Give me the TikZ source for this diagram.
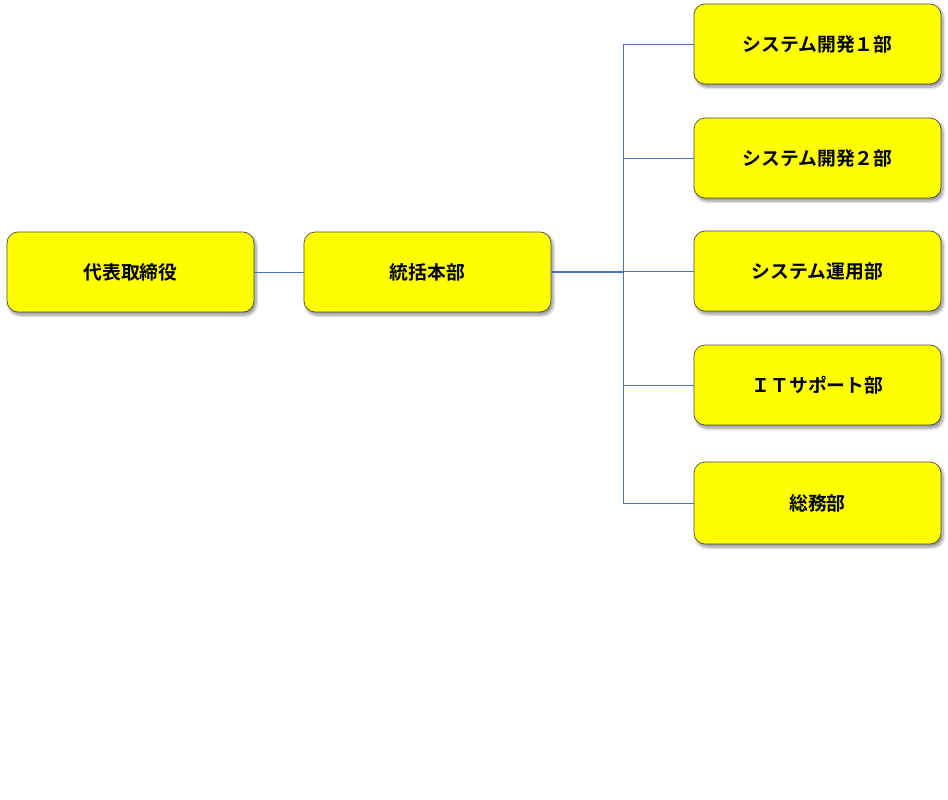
\documentclass[tikz,border=0pt]{standalone}
\usepackage{fontspec}
\setmainfont{Noto Sans CJK JP}
\newfontfamily\jpbold{Noto Sans CJK JP Bold}
\usetikzlibrary{shadows.blur}
\definecolor{linkblue}{HTML}{4A72B8}
\definecolor{boxyellow}{HTML}{FFFF00}
\tikzset{
  orgbox/.style={draw=black!70, line width=0.7pt, fill=boxyellow, rounded corners=11pt,
    minimum width=247pt, minimum height=80pt, inner sep=0pt,
    font=\jpbold\fontsize{18.8}{21}\selectfont,
    blur shadow={shadow xshift=2pt, shadow yshift=-3pt, shadow blur steps=6, shadow blur radius=3pt, shadow opacity=45}},
  link/.style={draw=linkblue, line width=0.8pt}
}
\begin{document}
\begin{tikzpicture}[x=1pt,y=-1pt]
\useasboundingbox (0,0) rectangle (948,800);
\node[orgbox] (ceo) at (130.5,272) {代表取締役};
\node[orgbox] (hq) at (427.5,272) {統括本部};
\node[orgbox] (d1) at (817.5,44) {システム開発１部};
\node[orgbox] (d2) at (817.5,158) {システム開発２部};
\node[orgbox] (d3) at (817.5,271) {システム運用部};
\node[orgbox] (d4) at (817.5,385) {ＩＴサポート部};
\node[orgbox, minimum height=82pt] (d5) at (817.5,503) {総務部};
\coordinate (tj) at (623,272);
\draw[link] (ceo.east) -- (hq.west);
\draw[link, line width=1.2pt] (hq.east) -- (tj);
\foreach \n in {d1,d2,d3,d4,d5}{
  \draw[link] (tj) |- (\n.west);
}
\end{tikzpicture}
\end{document}
